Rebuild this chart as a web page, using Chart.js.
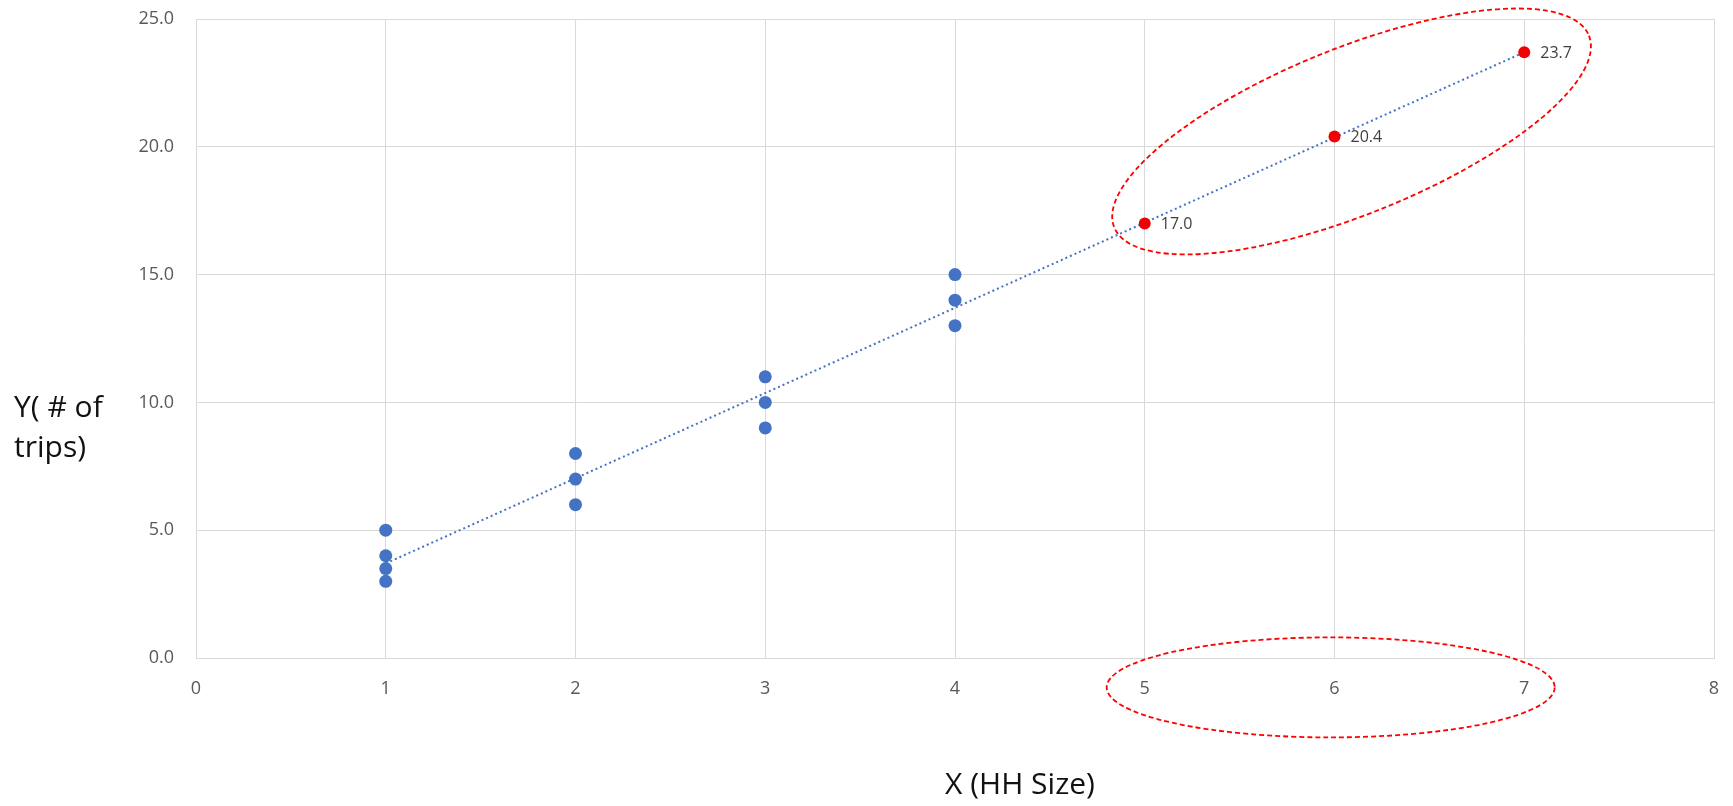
<!DOCTYPE html>
<html>
<head>
<meta charset="utf-8">
<title>Trips vs household size</title>
<script src="https://cdn.jsdelivr.net/npm/chart.js@4.4.0/dist/chart.umd.min.js"></script>
<style>
  html, body { margin: 0; padding: 0; background: #fff; }
  #wrap { position: relative; width: 1733px; height: 806px; }
  .axis-title {
    position: absolute;
    font-family: "Open Sans", sans-serif;
    font-size: 30px;
    line-height: 40px;
    color: #111;
    white-space: nowrap;
  }
  #y-title { left: 14px; top: 386px; }
  #x-title { left: 1020px; top: 763px; transform: translateX(-50%); }
</style>
</head>
<body>
<div id="wrap">
  <canvas id="main-chart" width="1733" height="806"></canvas>
  <div id="y-title" class="axis-title">Y( # of<br>trips)</div>
  <div id="x-title" class="axis-title">X (HH Size)</div>
</div>
<script>
// observed households (blue)
const obsX = [1, 1, 1, 1, 2, 2, 2, 3, 3, 3, 4, 4, 4];
const obsY = [5, 4, 3.5, 3, 8, 7, 6, 11, 10, 9, 15, 14, 13];

// predicted values (red, labelled)
const predX = [5, 6, 7];
const predY = [17.0, 20.4, 23.7];

// dotted trend line
const trendX = [1, 7];
const trendY = [3.7, 23.7];

const xTicks = [0, 1, 2, 3, 4, 5, 6, 7, 8];
const yTicks = [0, 5, 10, 15, 20, 25];

const GRID = "#d9d9d9";
const TICK_COLOR = "#595959";
const BLUE = "#4472C4";
const RED = "#F00000";

const toPoints = (xs, ys) => xs.map((x, i) => ({ x, y: ys[i] }));

// fixed axis size, and drop the label overhang padding so layout.padding rules
function fixSize(prop, size) {
  return s => {
    s[prop] = size;
    s.paddingTop = s.paddingBottom = s.paddingLeft = s.paddingRight = 0;
  };
}

// value labels next to the red points
const pointLabels = {
  id: "pointLabels",
  afterDatasetsDraw(chart) {
    const ctx = chart.ctx;
    const meta = chart.getDatasetMeta(2);
    ctx.save();
    ctx.font = '16px "Open Sans", sans-serif';
    ctx.fillStyle = "#404040";
    ctx.textAlign = "left";
    ctx.textBaseline = "middle";
    meta.data.forEach((pt, i) => {
      ctx.fillText(predY[i].toFixed(1), pt.x + 16, pt.y + 1);
    });
    ctx.restore();
  }
};

// red dashed rings drawn over the chart (centre in data units, radii in px)
const rings = [
  { x: 6.09, y: 20.6, rx: 256, ry: 83, angle: -22 },
  { x: 5.98, y: -1.15, rx: 224, ry: 50, angle: 0 }
];

const highlightRings = {
  id: "highlightRings",
  afterDraw(chart) {
    const ctx = chart.ctx;
    const sx = chart.scales.x;
    const sy = chart.scales.y;
    ctx.save();
    ctx.strokeStyle = "#FF0000";
    ctx.lineWidth = 1.8;
    ctx.setLineDash([5, 3]);
    rings.forEach(r => {
      ctx.beginPath();
      ctx.ellipse(sx.getPixelForValue(r.x), sy.getPixelForValue(r.y), r.rx, r.ry, r.angle * Math.PI / 180, 0, Math.PI * 2);
      ctx.stroke();
    });
    ctx.restore();
  }
};

function renderChart() {
  const ctx = document.getElementById("main-chart").getContext("2d");
  const tickFont = { family: '"Open Sans", sans-serif', size: 18 };

  return new Chart(ctx, {
    type: "scatter",
    data: {
      datasets: [
        {
          label: "Trend",
          data: toPoints(trendX, trendY),
          showLine: true,
          borderColor: BLUE,
          borderWidth: 2,
          borderDash: [2, 3],
          pointRadius: 0,
          order: 3
        },
        {
          label: "Observed",
          data: toPoints(obsX, obsY),
          backgroundColor: BLUE,
          borderWidth: 0,
          pointRadius: 6.5,
          order: 2
        },
        {
          label: "Predicted",
          data: toPoints(predX, predY),
          backgroundColor: RED,
          borderWidth: 0,
          pointRadius: 6,
          order: 1
        }
      ]
    },
    options: {
      responsive: false,
      animation: false,
      layout: { padding: { top: 19, right: 19, left: 0, bottom: 0 } },
      plugins: {
        legend: { display: false },
        tooltip: { enabled: false }
      },
      scales: {
        x: {
          type: "linear",
          min: xTicks[0],
          max: xTicks[xTicks.length - 1],
          afterBuildTicks: s => { s.ticks = xTicks.map(v => ({ value: v })); },
          afterFit: fixSize("height", 148),
          ticks: { color: TICK_COLOR, font: tickFont, padding: 20 },
          grid: { color: GRID, drawTicks: false },
          border: { color: GRID }
        },
        y: {
          type: "linear",
          min: yTicks[0],
          max: yTicks[yTicks.length - 1],
          afterBuildTicks: s => { s.ticks = yTicks.map(v => ({ value: v })); },
          afterFit: fixSize("width", 196),
          ticks: {
            color: TICK_COLOR,
            font: tickFont,
            padding: 22,
            callback: v => Number(v).toFixed(1)
          },
          grid: { color: GRID, drawTicks: false },
          border: { color: GRID }
        }
      }
    },
    plugins: [pointLabels, highlightRings]
  });
}

renderChart();
</script>
</body>
</html>
